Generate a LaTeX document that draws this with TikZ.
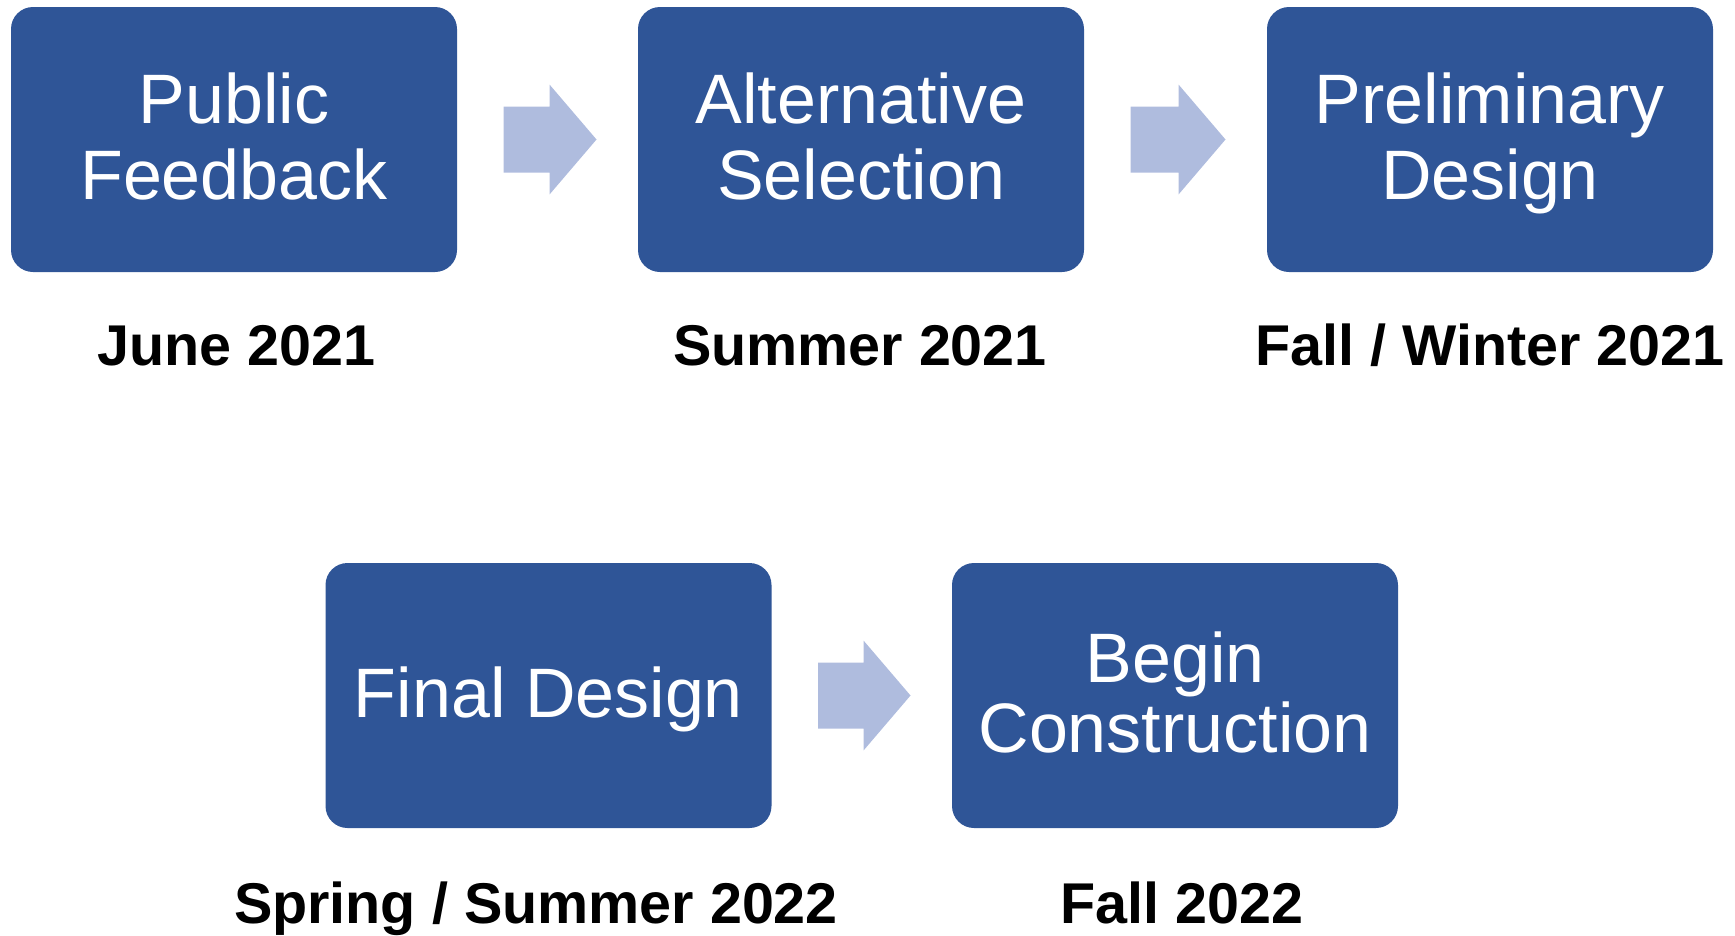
\documentclass[tikz,border=0pt]{standalone}
\usepackage{fontspec}
\setmainfont{Liberation Sans}
\usetikzlibrary{calc}

\definecolor{stageblue}{HTML}{2F5597}
\definecolor{arrowblue}{HTML}{AFBCDE}

% struts that fix where the baselines sit inside a stage box
\newcommand\stageTopStrut{\rule{0pt}{62pt}}
\newcommand\stageBotStrut{\rule[-18pt]{0pt}{18pt}}

% chevron-style block arrow from the east side of one box to the west side of the next
\newcommand\stepArrow[2]{%
  \fill[arrowblue] let \p1=(#1.east), \p2=(#2.west) in
    (\x1+46.3pt,\y1+33pt) -- (\x2-88.3pt,\y1+33pt) -- (\x2-88.3pt,\y1+55pt)
    -- (\x2-41.3pt,\y1) -- (\x2-88.3pt,\y1-55pt) -- (\x2-88.3pt,\y1-33pt)
    -- (\x1+46.3pt,\y1-33pt) -- cycle;}

\tikzset{
  stagebox/.style={rectangle, rounded corners=22pt, fill=stageblue,
    minimum width=446pt, minimum height=265pt, inner sep=0pt,
    text=white, align=center, font=\fontsize{70}{76}\selectfont},
  lowstagebox/.style={stagebox, font=\fontsize{70}{70}\selectfont},
  datelabel/.style={anchor=base, inner sep=0pt, text=black,
    font=\bfseries\fontsize{57.5}{60}\selectfont}
}

\begin{document}
\begin{tikzpicture}[x=1pt,y=-1pt]
\useasboundingbox (0,0) rectangle (1735,935);

% top row
\node[stagebox] (b1) at (234,139.5)
  {\stageTopStrut Public\\Feedback\stageBotStrut};
\node[stagebox] (b2) at (861,139.5)
  {\stageTopStrut Alternative\\Selection\stageBotStrut};
\node[stagebox] (b3) at (1490,139.5)
  {\stageTopStrut Preliminary\\Design\stageBotStrut};

% bottom row
\node[lowstagebox] (b4) at (548.5,695.5)
  {\stageTopStrut Final Design\stageBotStrut};
\node[lowstagebox] (b5) at (1175,695.5)
  {\stageTopStrut Begin\\Construction\stageBotStrut};

% arrows between stages
\stepArrow{b1}{b2}
\stepArrow{b2}{b3}
\stepArrow{b4}{b5}

% dates
\node[datelabel] (d1) at (236.5,365) {June 2021};
\node[datelabel] (d2) at (860,365) {Summer 2021};
\node[datelabel] (d3) at (1490,365) {Fall / Winter 2021};
\node[datelabel] (d4) at (536,923) {Spring / Summer 2022};
\node[datelabel] (d5) at (1182,923) {Fall 2022};
\end{tikzpicture}
\end{document}
